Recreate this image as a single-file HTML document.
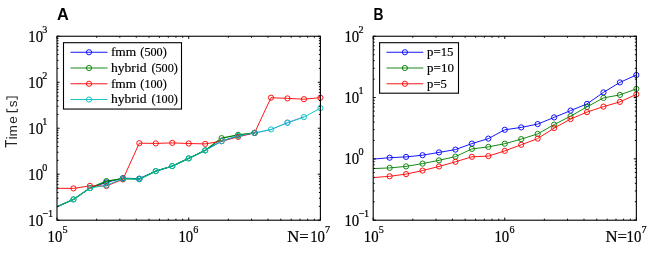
<!DOCTYPE html>
<html><head><meta charset="utf-8"><title>Figure</title>
<style>
html,body{margin:0;padding:0;background:#fff;}
body{width:664px;height:253px;overflow:hidden;}
svg{display:block;will-change:transform;opacity:0.999;}
text{fill:#000;}
.ttl{font-family:"Liberation Sans",sans-serif;font-weight:bold;font-size:16.3px;fill:#000;}
.yl{font-family:"Liberation Sans",sans-serif;font-size:13px;fill:#262626;}
.tk{font-family:"Liberation Serif",serif;font-size:15.7px;stroke:#000;stroke-width:0.22px;}
.lg{font-family:"Liberation Serif",serif;font-size:13.4px;stroke:#000;stroke-width:0.18px;}
</style></head><body>
<svg width="664" height="253" viewBox="0 0 664 253">
<defs>
<clipPath id="cA"><rect x="57.0" y="36.25" width="263.40" height="183.95"/></clipPath>
<clipPath id="cB"><rect x="373.2" y="36.25" width="263.15" height="183.95"/></clipPath>
</defs>
<rect width="664" height="253" fill="#fff"/>
<text x="57.1" y="19.65" class="ttl">A</text>
<text x="373.4" y="19.6" class="ttl" textLength="10" lengthAdjust="spacingAndGlyphs">B</text>
<text transform="translate(16.5,147.75) rotate(-90) scale(0.84,1)" class="yl" style="font-size:15.7px">T</text>
<text transform="translate(16.5,147.9) rotate(-90)" class="yl" style="font-size:14.6px"><tspan x="8.35">i</tspan></text>
<text transform="translate(16.7,147.9) rotate(-90) scale(1.05,1)" class="yl"><tspan x="10.8">m</tspan><tspan x="23.05">e</tspan><tspan x="38.7">s</tspan></text>
<path d="M6.85 108.8V111.6H17.25V108.8M6.85 99.8V96.9H17.25V99.8" fill="none" stroke="#262626" stroke-width="1.05"/>
<polyline points="254.55,133.20 271.01,129.70 287.47,122.40 303.94,116.90" fill="none" stroke="#0000ff" stroke-width="0.8" opacity="0.5"/>
<circle cx="287.47" cy="122.40" r="2.6" fill="none" stroke="#0000ff" stroke-width="0.8" opacity="0.5"/>
<polyline points="57.00,206.80 73.46,199.40 89.92,188.10 106.39,182.40 122.85,178.15 139.31,178.65 155.77,171.10 172.24,166.10 188.70,158.40 205.16,150.40 221.62,141.10 238.09,135.90 254.55,132.90" fill="none" stroke="#0000ff" stroke-width="0.92" stroke-linejoin="round" clip-path="url(#cA)"/>
<circle cx="106.39" cy="182.40" r="2.6" fill="none" stroke="#0000ff" stroke-width="0.92"/>
<circle cx="122.85" cy="178.15" r="2.6" fill="none" stroke="#0000ff" stroke-width="0.92"/>
<circle cx="139.31" cy="178.65" r="2.6" fill="none" stroke="#0000ff" stroke-width="0.92"/>
<circle cx="254.55" cy="132.90" r="2.6" fill="none" stroke="#0000ff" stroke-width="0.92"/>
<polyline points="57.00,206.80 73.46,199.40 89.92,188.10 106.39,181.10 122.85,178.65 139.31,179.10 155.77,171.10 172.24,166.10 188.70,158.40 205.16,150.40 221.62,138.10 238.09,134.90 254.55,132.90" fill="none" stroke="#008000" stroke-width="1.25" stroke-linejoin="round" clip-path="url(#cA)"/>
<circle cx="73.46" cy="199.40" r="2.6" fill="none" stroke="#008000" stroke-width="0.92"/>
<circle cx="89.92" cy="188.10" r="2.6" fill="none" stroke="#008000" stroke-width="0.92"/>
<circle cx="106.39" cy="181.10" r="2.6" fill="none" stroke="#008000" stroke-width="0.92"/>
<circle cx="122.85" cy="178.65" r="2.6" fill="none" stroke="#008000" stroke-width="0.92"/>
<circle cx="139.31" cy="179.10" r="2.6" fill="none" stroke="#008000" stroke-width="0.92"/>
<circle cx="155.77" cy="171.10" r="2.6" fill="none" stroke="#008000" stroke-width="0.92"/>
<circle cx="172.24" cy="166.10" r="2.6" fill="none" stroke="#008000" stroke-width="0.92"/>
<circle cx="188.70" cy="158.40" r="2.6" fill="none" stroke="#008000" stroke-width="0.92"/>
<circle cx="205.16" cy="150.40" r="2.6" fill="none" stroke="#008000" stroke-width="0.92"/>
<circle cx="221.62" cy="138.10" r="2.6" fill="none" stroke="#008000" stroke-width="0.92"/>
<circle cx="238.09" cy="134.90" r="2.6" fill="none" stroke="#008000" stroke-width="0.92"/>
<circle cx="254.55" cy="132.90" r="2.6" fill="none" stroke="#008000" stroke-width="0.92"/>
<polyline points="57.00,188.30 73.46,188.40 89.92,185.90 106.39,186.00 122.85,179.40 139.31,143.20 155.77,143.40 172.24,142.90 188.70,143.50 205.16,143.90 221.62,141.20 238.09,136.90 254.55,132.90 271.01,97.70 287.47,98.40 303.94,99.20 320.40,97.70" fill="none" stroke="#ff0000" stroke-width="0.92" stroke-linejoin="round" clip-path="url(#cA)"/>
<circle cx="73.46" cy="188.40" r="2.6" fill="none" stroke="#ff0000" stroke-width="0.92"/>
<circle cx="89.92" cy="185.90" r="2.6" fill="none" stroke="#ff0000" stroke-width="0.92"/>
<circle cx="106.39" cy="186.00" r="2.6" fill="none" stroke="#ff0000" stroke-width="0.92"/>
<circle cx="122.85" cy="179.40" r="2.6" fill="none" stroke="#ff0000" stroke-width="0.92"/>
<circle cx="139.31" cy="143.20" r="2.6" fill="none" stroke="#ff0000" stroke-width="0.92"/>
<circle cx="155.77" cy="143.40" r="2.6" fill="none" stroke="#ff0000" stroke-width="0.92"/>
<circle cx="172.24" cy="142.90" r="2.6" fill="none" stroke="#ff0000" stroke-width="0.92"/>
<circle cx="188.70" cy="143.50" r="2.6" fill="none" stroke="#ff0000" stroke-width="0.92"/>
<circle cx="205.16" cy="143.90" r="2.6" fill="none" stroke="#ff0000" stroke-width="0.92"/>
<circle cx="221.62" cy="141.20" r="2.6" fill="none" stroke="#ff0000" stroke-width="0.92"/>
<circle cx="238.09" cy="136.90" r="2.6" fill="none" stroke="#ff0000" stroke-width="0.92"/>
<circle cx="254.55" cy="132.90" r="2.6" fill="none" stroke="#ff0000" stroke-width="0.92"/>
<circle cx="271.01" cy="97.70" r="2.6" fill="none" stroke="#ff0000" stroke-width="0.92"/>
<circle cx="287.47" cy="98.40" r="2.6" fill="none" stroke="#ff0000" stroke-width="0.92"/>
<circle cx="303.94" cy="99.20" r="2.6" fill="none" stroke="#ff0000" stroke-width="0.92"/>
<circle cx="320.40" cy="97.70" r="2.6" fill="none" stroke="#ff0000" stroke-width="0.92"/>
<polyline points="57.00,206.80 73.46,199.40 89.92,188.10 106.39,185.25 122.85,178.65 139.31,179.10 155.77,171.10 172.24,166.10 188.70,158.40 205.16,150.40 221.62,141.10 238.09,135.90 254.55,132.90 271.01,129.40 287.47,122.90 303.94,117.10 320.40,108.20" fill="none" stroke="#00bfbf" stroke-width="0.92" stroke-linejoin="round" clip-path="url(#cA)"/>
<circle cx="73.46" cy="199.40" r="2.6" fill="none" stroke="#00bfbf" stroke-width="0.92"/>
<circle cx="89.92" cy="188.10" r="2.6" fill="none" stroke="#00bfbf" stroke-width="0.92"/>
<circle cx="106.39" cy="185.25" r="2.6" fill="none" stroke="#00bfbf" stroke-width="0.92"/>
<circle cx="122.85" cy="178.65" r="2.6" fill="none" stroke="#00bfbf" stroke-width="0.92"/>
<circle cx="139.31" cy="179.10" r="2.6" fill="none" stroke="#00bfbf" stroke-width="0.92"/>
<circle cx="155.77" cy="171.10" r="2.6" fill="none" stroke="#00bfbf" stroke-width="0.92"/>
<circle cx="172.24" cy="166.10" r="2.6" fill="none" stroke="#00bfbf" stroke-width="0.92"/>
<circle cx="188.70" cy="158.40" r="2.6" fill="none" stroke="#00bfbf" stroke-width="0.92"/>
<circle cx="205.16" cy="150.40" r="2.6" fill="none" stroke="#00bfbf" stroke-width="0.92"/>
<circle cx="221.62" cy="141.10" r="2.6" fill="none" stroke="#00bfbf" stroke-width="0.92"/>
<circle cx="238.09" cy="135.90" r="2.6" fill="none" stroke="#00bfbf" stroke-width="0.92"/>
<circle cx="254.55" cy="132.90" r="2.6" fill="none" stroke="#00bfbf" stroke-width="0.92"/>
<circle cx="271.01" cy="129.40" r="2.6" fill="none" stroke="#00bfbf" stroke-width="0.92"/>
<circle cx="287.47" cy="122.90" r="2.6" fill="none" stroke="#00bfbf" stroke-width="0.92"/>
<circle cx="303.94" cy="117.10" r="2.6" fill="none" stroke="#00bfbf" stroke-width="0.92"/>
<circle cx="320.40" cy="108.20" r="2.6" fill="none" stroke="#00bfbf" stroke-width="0.92"/>
<rect x="57.0" y="36.25" width="263.40" height="183.95" fill="none" stroke="#000" stroke-width="1.1"/>
<path d="M57.00 220.2v-2.6M57.00 36.25v2.6M96.65 220.2v-1.5M96.65 36.25v1.5M119.84 220.2v-1.5M119.84 36.25v1.5M136.29 220.2v-1.5M136.29 36.25v1.5M149.05 220.2v-1.5M149.05 36.25v1.5M159.48 220.2v-1.5M159.48 36.25v1.5M168.30 220.2v-1.5M168.30 36.25v1.5M175.94 220.2v-1.5M175.94 36.25v1.5M182.67 220.2v-1.5M182.67 36.25v1.5M188.70 220.2v-2.6M188.70 36.25v2.6M228.35 220.2v-1.5M228.35 36.25v1.5M251.54 220.2v-1.5M251.54 36.25v1.5M267.99 220.2v-1.5M267.99 36.25v1.5M280.75 220.2v-1.5M280.75 36.25v1.5M291.18 220.2v-1.5M291.18 36.25v1.5M300.00 220.2v-1.5M300.00 36.25v1.5M307.64 220.2v-1.5M307.64 36.25v1.5M314.37 220.2v-1.5M314.37 36.25v1.5M320.40 220.2v-2.6M320.40 36.25v2.6M57.0 220.20h2.6M320.4 220.20h-2.6M57.0 206.36h1.5M320.4 206.36h-1.5M57.0 198.26h1.5M320.4 198.26h-1.5M57.0 192.51h1.5M320.4 192.51h-1.5M57.0 188.06h1.5M320.4 188.06h-1.5M57.0 184.41h1.5M320.4 184.41h-1.5M57.0 181.34h1.5M320.4 181.34h-1.5M57.0 178.67h1.5M320.4 178.67h-1.5M57.0 176.32h1.5M320.4 176.32h-1.5M57.0 174.21h2.6M320.4 174.21h-2.6M57.0 160.37h1.5M320.4 160.37h-1.5M57.0 152.27h1.5M320.4 152.27h-1.5M57.0 146.53h1.5M320.4 146.53h-1.5M57.0 142.07h1.5M320.4 142.07h-1.5M57.0 138.43h1.5M320.4 138.43h-1.5M57.0 135.35h1.5M320.4 135.35h-1.5M57.0 132.68h1.5M320.4 132.68h-1.5M57.0 130.33h1.5M320.4 130.33h-1.5M57.0 128.22h2.6M320.4 128.22h-2.6M57.0 114.38h1.5M320.4 114.38h-1.5M57.0 106.28h1.5M320.4 106.28h-1.5M57.0 100.54h1.5M320.4 100.54h-1.5M57.0 96.08h1.5M320.4 96.08h-1.5M57.0 92.44h1.5M320.4 92.44h-1.5M57.0 89.36h1.5M320.4 89.36h-1.5M57.0 86.69h1.5M320.4 86.69h-1.5M57.0 84.34h1.5M320.4 84.34h-1.5M57.0 82.24h2.6M320.4 82.24h-2.6M57.0 68.39h1.5M320.4 68.39h-1.5M57.0 60.30h1.5M320.4 60.30h-1.5M57.0 54.55h1.5M320.4 54.55h-1.5M57.0 50.09h1.5M320.4 50.09h-1.5M57.0 46.45h1.5M320.4 46.45h-1.5M57.0 43.37h1.5M320.4 43.37h-1.5M57.0 40.71h1.5M320.4 40.71h-1.5M57.0 38.35h1.5M320.4 38.35h-1.5M57.0 36.25h2.6M320.4 36.25h-2.6" stroke="#000" stroke-width="1.0" fill="none"/>
<polyline points="373.20,159.10 389.65,157.70 406.09,156.90 422.54,155.20 438.99,152.40 455.43,149.60 471.88,143.60 488.33,138.60 504.77,129.80 521.22,127.40 537.67,124.10 554.12,117.40 570.56,110.60 587.01,103.90 603.46,92.40 619.90,82.40 636.35,75.00" fill="none" stroke="#0000ff" stroke-width="0.92" stroke-linejoin="round" clip-path="url(#cB)"/>
<circle cx="389.65" cy="157.70" r="2.6" fill="none" stroke="#0000ff" stroke-width="0.92"/>
<circle cx="406.09" cy="156.90" r="2.6" fill="none" stroke="#0000ff" stroke-width="0.92"/>
<circle cx="422.54" cy="155.20" r="2.6" fill="none" stroke="#0000ff" stroke-width="0.92"/>
<circle cx="438.99" cy="152.40" r="2.6" fill="none" stroke="#0000ff" stroke-width="0.92"/>
<circle cx="455.43" cy="149.60" r="2.6" fill="none" stroke="#0000ff" stroke-width="0.92"/>
<circle cx="471.88" cy="143.60" r="2.6" fill="none" stroke="#0000ff" stroke-width="0.92"/>
<circle cx="488.33" cy="138.60" r="2.6" fill="none" stroke="#0000ff" stroke-width="0.92"/>
<circle cx="504.77" cy="129.80" r="2.6" fill="none" stroke="#0000ff" stroke-width="0.92"/>
<circle cx="521.22" cy="127.40" r="2.6" fill="none" stroke="#0000ff" stroke-width="0.92"/>
<circle cx="537.67" cy="124.10" r="2.6" fill="none" stroke="#0000ff" stroke-width="0.92"/>
<circle cx="554.12" cy="117.40" r="2.6" fill="none" stroke="#0000ff" stroke-width="0.92"/>
<circle cx="570.56" cy="110.60" r="2.6" fill="none" stroke="#0000ff" stroke-width="0.92"/>
<circle cx="587.01" cy="103.90" r="2.6" fill="none" stroke="#0000ff" stroke-width="0.92"/>
<circle cx="603.46" cy="92.40" r="2.6" fill="none" stroke="#0000ff" stroke-width="0.92"/>
<circle cx="619.90" cy="82.40" r="2.6" fill="none" stroke="#0000ff" stroke-width="0.92"/>
<circle cx="636.35" cy="75.00" r="2.6" fill="none" stroke="#0000ff" stroke-width="0.92"/>
<polyline points="373.20,168.60 389.65,167.90 406.09,166.40 422.54,163.60 438.99,160.35 455.43,156.60 471.88,148.90 488.33,146.90 504.77,143.70 521.22,139.10 537.67,133.90 554.12,124.60 570.56,116.15 587.01,106.90 603.46,97.90 619.90,94.90 636.35,88.90" fill="none" stroke="#008000" stroke-width="0.92" stroke-linejoin="round" clip-path="url(#cB)"/>
<circle cx="389.65" cy="167.90" r="2.6" fill="none" stroke="#008000" stroke-width="0.92"/>
<circle cx="406.09" cy="166.40" r="2.6" fill="none" stroke="#008000" stroke-width="0.92"/>
<circle cx="422.54" cy="163.60" r="2.6" fill="none" stroke="#008000" stroke-width="0.92"/>
<circle cx="438.99" cy="160.35" r="2.6" fill="none" stroke="#008000" stroke-width="0.92"/>
<circle cx="455.43" cy="156.60" r="2.6" fill="none" stroke="#008000" stroke-width="0.92"/>
<circle cx="471.88" cy="148.90" r="2.6" fill="none" stroke="#008000" stroke-width="0.92"/>
<circle cx="488.33" cy="146.90" r="2.6" fill="none" stroke="#008000" stroke-width="0.92"/>
<circle cx="504.77" cy="143.70" r="2.6" fill="none" stroke="#008000" stroke-width="0.92"/>
<circle cx="521.22" cy="139.10" r="2.6" fill="none" stroke="#008000" stroke-width="0.92"/>
<circle cx="537.67" cy="133.90" r="2.6" fill="none" stroke="#008000" stroke-width="0.92"/>
<circle cx="554.12" cy="124.60" r="2.6" fill="none" stroke="#008000" stroke-width="0.92"/>
<circle cx="570.56" cy="116.15" r="2.6" fill="none" stroke="#008000" stroke-width="0.92"/>
<circle cx="587.01" cy="106.90" r="2.6" fill="none" stroke="#008000" stroke-width="0.92"/>
<circle cx="603.46" cy="97.90" r="2.6" fill="none" stroke="#008000" stroke-width="0.92"/>
<circle cx="619.90" cy="94.90" r="2.6" fill="none" stroke="#008000" stroke-width="0.92"/>
<circle cx="636.35" cy="88.90" r="2.6" fill="none" stroke="#008000" stroke-width="0.92"/>
<polyline points="373.20,177.60 389.65,176.30 406.09,174.10 422.54,170.60 438.99,166.45 455.43,161.80 471.88,156.80 488.33,156.10 504.77,150.90 521.22,144.80 537.67,138.60 554.12,128.10 570.56,119.10 587.01,112.10 603.46,106.60 619.90,101.90 636.35,94.40" fill="none" stroke="#ff0000" stroke-width="0.92" stroke-linejoin="round" clip-path="url(#cB)"/>
<circle cx="389.65" cy="176.30" r="2.6" fill="none" stroke="#ff0000" stroke-width="0.92"/>
<circle cx="406.09" cy="174.10" r="2.6" fill="none" stroke="#ff0000" stroke-width="0.92"/>
<circle cx="422.54" cy="170.60" r="2.6" fill="none" stroke="#ff0000" stroke-width="0.92"/>
<circle cx="438.99" cy="166.45" r="2.6" fill="none" stroke="#ff0000" stroke-width="0.92"/>
<circle cx="455.43" cy="161.80" r="2.6" fill="none" stroke="#ff0000" stroke-width="0.92"/>
<circle cx="471.88" cy="156.80" r="2.6" fill="none" stroke="#ff0000" stroke-width="0.92"/>
<circle cx="488.33" cy="156.10" r="2.6" fill="none" stroke="#ff0000" stroke-width="0.92"/>
<circle cx="504.77" cy="150.90" r="2.6" fill="none" stroke="#ff0000" stroke-width="0.92"/>
<circle cx="521.22" cy="144.80" r="2.6" fill="none" stroke="#ff0000" stroke-width="0.92"/>
<circle cx="537.67" cy="138.60" r="2.6" fill="none" stroke="#ff0000" stroke-width="0.92"/>
<circle cx="554.12" cy="128.10" r="2.6" fill="none" stroke="#ff0000" stroke-width="0.92"/>
<circle cx="570.56" cy="119.10" r="2.6" fill="none" stroke="#ff0000" stroke-width="0.92"/>
<circle cx="587.01" cy="112.10" r="2.6" fill="none" stroke="#ff0000" stroke-width="0.92"/>
<circle cx="603.46" cy="106.60" r="2.6" fill="none" stroke="#ff0000" stroke-width="0.92"/>
<circle cx="619.90" cy="101.90" r="2.6" fill="none" stroke="#ff0000" stroke-width="0.92"/>
<circle cx="636.35" cy="94.40" r="2.6" fill="none" stroke="#ff0000" stroke-width="0.92"/>
<rect x="373.2" y="36.25" width="263.15" height="183.95" fill="none" stroke="#000" stroke-width="1.1"/>
<path d="M373.20 220.2v-2.6M373.20 36.25v2.6M412.81 220.2v-1.5M412.81 36.25v1.5M435.98 220.2v-1.5M435.98 36.25v1.5M452.42 220.2v-1.5M452.42 36.25v1.5M465.17 220.2v-1.5M465.17 36.25v1.5M475.59 220.2v-1.5M475.59 36.25v1.5M484.39 220.2v-1.5M484.39 36.25v1.5M492.02 220.2v-1.5M492.02 36.25v1.5M498.75 220.2v-1.5M498.75 36.25v1.5M504.77 220.2v-2.6M504.77 36.25v2.6M544.38 220.2v-1.5M544.38 36.25v1.5M567.55 220.2v-1.5M567.55 36.25v1.5M583.99 220.2v-1.5M583.99 36.25v1.5M596.74 220.2v-1.5M596.74 36.25v1.5M607.16 220.2v-1.5M607.16 36.25v1.5M615.97 220.2v-1.5M615.97 36.25v1.5M623.60 220.2v-1.5M623.60 36.25v1.5M630.33 220.2v-1.5M630.33 36.25v1.5M636.35 220.2v-2.6M636.35 36.25v2.6M373.2 220.20h2.6M636.35 220.20h-2.6M373.2 201.74h1.5M636.35 201.74h-1.5M373.2 190.94h1.5M636.35 190.94h-1.5M373.2 183.28h1.5M636.35 183.28h-1.5M373.2 177.34h1.5M636.35 177.34h-1.5M373.2 172.49h1.5M636.35 172.49h-1.5M373.2 168.38h1.5M636.35 168.38h-1.5M373.2 164.83h1.5M636.35 164.83h-1.5M373.2 161.69h1.5M636.35 161.69h-1.5M373.2 158.88h2.6M636.35 158.88h-2.6M373.2 140.43h1.5M636.35 140.43h-1.5M373.2 129.63h1.5M636.35 129.63h-1.5M373.2 121.97h1.5M636.35 121.97h-1.5M373.2 116.02h1.5M636.35 116.02h-1.5M373.2 111.17h1.5M636.35 111.17h-1.5M373.2 107.06h1.5M636.35 107.06h-1.5M373.2 103.51h1.5M636.35 103.51h-1.5M373.2 100.37h1.5M636.35 100.37h-1.5M373.2 97.57h2.6M636.35 97.57h-2.6M373.2 79.11h1.5M636.35 79.11h-1.5M373.2 68.31h1.5M636.35 68.31h-1.5M373.2 60.65h1.5M636.35 60.65h-1.5M373.2 54.71h1.5M636.35 54.71h-1.5M373.2 49.85h1.5M636.35 49.85h-1.5M373.2 45.75h1.5M636.35 45.75h-1.5M373.2 42.19h1.5M636.35 42.19h-1.5M373.2 39.06h1.5M636.35 39.06h-1.5M373.2 36.25h2.6M636.35 36.25h-2.6" stroke="#000" stroke-width="1.0" fill="none"/>
<text transform="translate(28.30,225.8) scale(0.94,1)" class="tk">10<tspan dx="-0.8" dy="-9.3" font-size="10.8px">−1</tspan></text>
<text transform="translate(28.30,179.81) scale(0.94,1)" class="tk">10<tspan dx="-0.8" dy="-9.3" font-size="10.8px">0</tspan></text>
<text transform="translate(28.30,133.82) scale(0.94,1)" class="tk">10<tspan dx="-0.8" dy="-9.3" font-size="10.8px">1</tspan></text>
<text transform="translate(28.30,87.84) scale(0.94,1)" class="tk">10<tspan dx="-0.8" dy="-9.3" font-size="10.8px">2</tspan></text>
<text transform="translate(28.30,41.85) scale(0.94,1)" class="tk">10<tspan dx="-0.8" dy="-9.3" font-size="10.8px">3</tspan></text>
<text transform="translate(344.40,225.8) scale(0.94,1)" class="tk">10<tspan dx="-0.8" dy="-9.3" font-size="10.8px">−1</tspan></text>
<text transform="translate(344.40,164.48) scale(0.94,1)" class="tk">10<tspan dx="-0.8" dy="-9.3" font-size="10.8px">0</tspan></text>
<text transform="translate(344.40,103.17) scale(0.94,1)" class="tk">10<tspan dx="-0.8" dy="-9.3" font-size="10.8px">1</tspan></text>
<text transform="translate(344.40,41.85) scale(0.94,1)" class="tk">10<tspan dx="-0.8" dy="-9.3" font-size="10.8px">2</tspan></text>
<text transform="translate(47.60,241.5) scale(0.94,1)" class="tk">10<tspan dx="0.1" dy="-8.6" font-size="10.8px">5</tspan></text>
<text transform="translate(178.40,241.5) scale(0.94,1)" class="tk">10<tspan dx="0.1" dy="-8.6" font-size="10.8px">6</tspan></text>
<text transform="translate(310.20,241.5) scale(0.94,1)" class="tk">10<tspan dx="0.1" dy="-8.9" font-size="10.8px">7</tspan></text>
<text x="287.30" y="241.5" class="tk" textLength="21.5" lengthAdjust="spacingAndGlyphs">N=</text>
<text transform="translate(363.80,241.5) scale(0.94,1)" class="tk">10<tspan dx="0.3" dy="-8.2" font-size="10.8px">5</tspan></text>
<text transform="translate(494.47,241.5) scale(0.94,1)" class="tk">10<tspan dx="0.3" dy="-8.2" font-size="10.8px">6</tspan></text>
<text transform="translate(626.55,241.5) scale(0.94,1)" class="tk">10<tspan dx="0.3" dy="-8.5" font-size="10.8px">7</tspan></text>
<text x="605.45" y="241.5" class="tk" textLength="21.5" lengthAdjust="spacingAndGlyphs">N=</text>
<rect x="63.5" y="42.7" width="118.0" height="66.35" fill="#fff" stroke="#000" stroke-width="1.1"/>
<line x1="70.5" y1="52.25" x2="107.5" y2="52.25" stroke="#0000ff" stroke-width="0.92"/>
<circle cx="89.0" cy="52.25" r="2.6" fill="none" stroke="#0000ff" stroke-width="0.92"/>
<text x="110.9" y="56.05" class="lg" textLength="25.3" lengthAdjust="spacingAndGlyphs">fmm</text>
<text x="140.35" y="56.05" class="lg" textLength="26.4" lengthAdjust="spacingAndGlyphs">(500)</text>
<line x1="70.5" y1="68.01" x2="107.5" y2="68.01" stroke="#008000" stroke-width="0.92"/>
<circle cx="89.0" cy="68.01" r="2.6" fill="none" stroke="#008000" stroke-width="0.92"/>
<text x="110.9" y="71.81" class="lg" textLength="35.6" lengthAdjust="spacingAndGlyphs">hybrid</text>
<text x="151.45" y="71.81" class="lg" textLength="26.4" lengthAdjust="spacingAndGlyphs">(500)</text>
<line x1="70.5" y1="83.77" x2="107.5" y2="83.77" stroke="#ff0000" stroke-width="0.92"/>
<circle cx="89.0" cy="83.77" r="2.6" fill="none" stroke="#ff0000" stroke-width="0.92"/>
<text x="110.9" y="87.57" class="lg" textLength="25.3" lengthAdjust="spacingAndGlyphs">fmm</text>
<text x="140.35" y="87.57" class="lg" textLength="26.4" lengthAdjust="spacingAndGlyphs">(100)</text>
<line x1="70.5" y1="99.53" x2="107.5" y2="99.53" stroke="#00bfbf" stroke-width="0.92"/>
<circle cx="89.0" cy="99.53" r="2.6" fill="none" stroke="#00bfbf" stroke-width="0.92"/>
<text x="110.9" y="103.33" class="lg" textLength="35.6" lengthAdjust="spacingAndGlyphs">hybrid</text>
<text x="151.45" y="103.33" class="lg" textLength="26.4" lengthAdjust="spacingAndGlyphs">(100)</text>
<rect x="379.6" y="42.7" width="78.9" height="50.5" fill="#fff" stroke="#000" stroke-width="1.1"/>
<line x1="386.5" y1="52.25" x2="423.3" y2="52.25" stroke="#0000ff" stroke-width="0.92"/>
<circle cx="404.9" cy="52.25" r="2.6" fill="none" stroke="#0000ff" stroke-width="0.92"/>
<text x="427.1" y="56.05" class="lg" textLength="26.4" lengthAdjust="spacingAndGlyphs">p=15</text>
<line x1="386.5" y1="68.01" x2="423.3" y2="68.01" stroke="#008000" stroke-width="0.92"/>
<circle cx="404.9" cy="68.01" r="2.6" fill="none" stroke="#008000" stroke-width="0.92"/>
<text x="427.1" y="71.81" class="lg" textLength="26.8" lengthAdjust="spacingAndGlyphs">p=10</text>
<line x1="386.5" y1="83.77" x2="423.3" y2="83.77" stroke="#ff0000" stroke-width="0.92"/>
<circle cx="404.9" cy="83.77" r="2.6" fill="none" stroke="#ff0000" stroke-width="0.92"/>
<text x="427.1" y="87.57" class="lg" textLength="19.8" lengthAdjust="spacingAndGlyphs">p=5</text>
</svg>
</body></html>
